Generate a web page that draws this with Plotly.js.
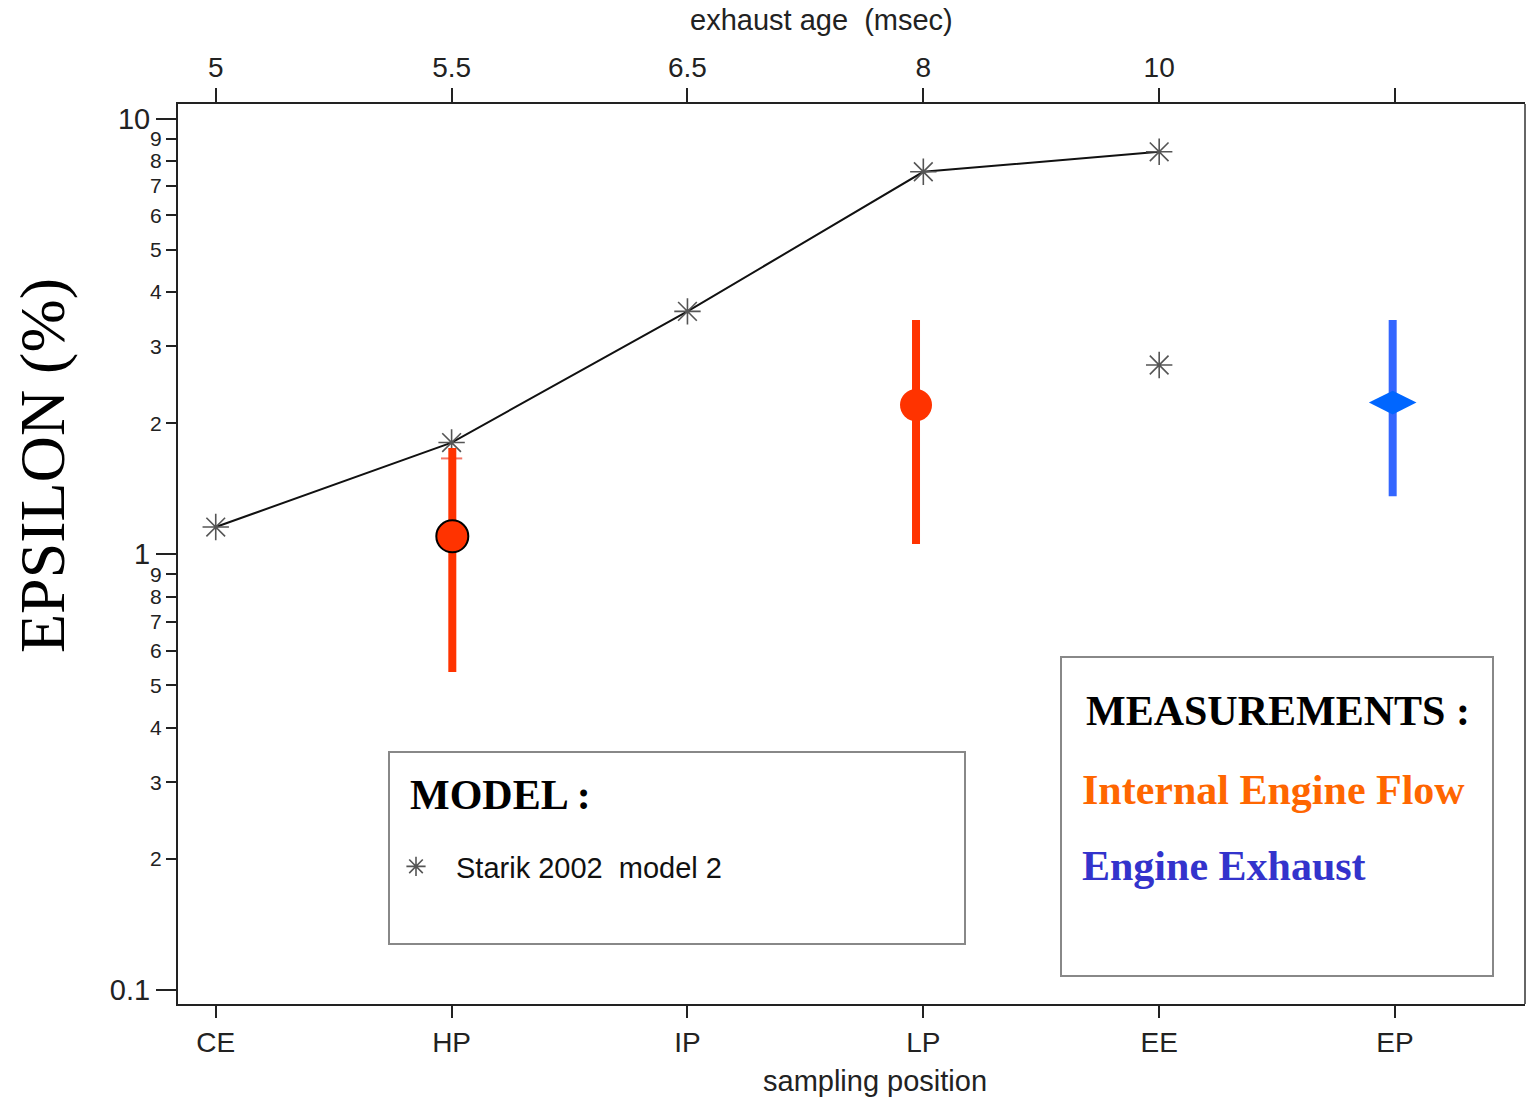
<!DOCTYPE html>
<html><head><meta charset="utf-8">
<script src="https://cdn.plot.ly/plotly-3.0.1.min.js"></script>
<style>html,body{margin:0;padding:0;background:#fff;} #chart{width:1526px;height:1098px;}</style>
</head><body><div id="chart"></div>
<script>
// ---- data ----
const positions = ['CE', 'HP', 'IP', 'LP', 'EE', 'EP'];
const positionIndex = [0, 1, 2, 3, 4, 5];
const exhaustAge = ['5', '5.5', '6.5', '8', '10', ''];

const modelLineX = [0, 1, 2, 3, 4];
const modelLineY = [1.155, 1.805, 3.61, 7.55, 8.39];
const modelPointX = [0, 1, 2, 3, 4, 4];
const modelPointY = [1.155, 1.805, 3.61, 7.55, 8.39, 2.72];

const internalX = [1.003, 2.969];
const internalY = [1.10, 2.20];
const internalHigh = [1.755, 3.45];
const internalLow = [0.537, 1.056];

const exhaustX = [4.99];
const exhaustY = [2.23];
const exhaustHigh = [3.45];
const exhaustLow = [1.36];

const hpCapX = [0.955, 1.045];
const hpCapY = [1.66, 1.66];

const majorTicks = [0.1, 1, 10];
const majorLabels = ['0.1', '1', '10'];
const minorTicks = [0.2, 0.3, 0.4, 0.5, 0.6, 0.7, 0.8, 0.9, 2, 3, 4, 5, 6, 7, 8, 9];
const minorLabels = ['2', '3', '4', '5', '6', '7', '8', '9', '2', '3', '4', '5', '6', '7', '8', '9'];

// ---- chart ----
const xRange = [-0.16, 5.551];
const yRange = [-1.032, 1.0335];
const sans = 'Liberation Sans, Arial, sans-serif';
const serif = 'Liberation Serif, Times New Roman, serif';

const traces = [
  {x: modelLineX, y: modelLineY, mode: 'lines', line: {color: '#111', width: 2},
   showlegend: false, hoverinfo: 'skip'},
  {x: modelPointX, y: modelPointY, mode: 'markers', name: 'Starik 2002\u00a0\u00a0model 2',
   marker: {symbol: 'asterisk-open', size: 22, color: '#555', line: {color: '#555', width: 1.6}},
   showlegend: true},
  {x: hpCapX, y: hpCapY, mode: 'lines', line: {color: 'rgba(240,70,50,0.75)', width: 2},
   showlegend: false, hoverinfo: 'skip'},
  {x: internalX, y: internalY, mode: 'markers', showlegend: false,
   marker: {symbol: 'circle', size: 32, color: '#FF3300', line: {color: '#000', width: [2, 0]}},
   error_y: {type: 'data', symmetric: false,
     array: internalHigh.map((h, i) => h - internalY[i]),
     arrayminus: internalLow.map((l, i) => internalY[i] - l),
     color: '#FF3300', thickness: 8, width: 0}},
  {x: exhaustX, y: exhaustY, mode: 'markers', showlegend: false,
   marker: {symbol: 'diamond-wide', size: 34, color: '#0066FF', line: {width: 0}},
   error_y: {type: 'data', symmetric: false,
     array: exhaustHigh.map((h, i) => h - exhaustY[i]),
     arrayminus: exhaustLow.map((l, i) => exhaustY[i] - l),
     color: '#3366FF', thickness: 8, width: 0}},
  {x: [], y: [], xaxis: 'x2', yaxis: 'y2', mode: 'markers', showlegend: false, hoverinfo: 'skip'}
];

const px = v => (v - 178) / 1347;
const py = v => (1004 - v) / 900;

const layout = {
  width: 1526, height: 1098,
  margin: {l: 178, r: 1, t: 104, b: 94, pad: 0},
  paper_bgcolor: '#fff', plot_bgcolor: '#fff',
  showlegend: true,
  legend: {x: px(376), y: py(841), xanchor: 'left', yanchor: 'top', bgcolor: 'rgba(0,0,0,0)',
    borderwidth: 0, itemwidth: 70, font: {family: sans, size: 29, color: '#111'}},
  xaxis: {range: xRange, tickmode: 'array', tickvals: positionIndex, ticktext: positions,
    showgrid: false, zeroline: false, showline: true, linecolor: '#222', linewidth: 2,
    ticks: 'outside', ticklen: 12, tickwidth: 2, tickcolor: '#222',
    tickfont: {family: sans, size: 28, color: '#222'}},
  xaxis2: {range: xRange, overlaying: 'x', side: 'top', anchor: 'y2', tickmode: 'array',
    tickvals: positionIndex, ticktext: exhaustAge,
    showgrid: false, zeroline: false, showline: true, linecolor: '#222', linewidth: 2,
    ticks: 'outside', ticklen: 14, tickwidth: 2, tickcolor: '#222',
    tickfont: {family: sans, size: 28, color: '#222'}},
  yaxis: {type: 'log', range: yRange, tickmode: 'array', tickvals: majorTicks, ticktext: majorLabels,
    showgrid: false, zeroline: false, showline: true, linecolor: '#222', linewidth: 2,
    ticks: 'outside', ticklen: 20, tickwidth: 2, tickcolor: '#222',
    tickfont: {family: sans, size: 29, color: '#222'}},
  yaxis2: {type: 'log', range: yRange, overlaying: 'y', side: 'left', anchor: 'x2',
    tickmode: 'array', tickvals: minorTicks, ticktext: minorLabels,
    showgrid: false, zeroline: false, showline: false,
    ticks: 'outside', ticklen: 11, tickwidth: 2, tickcolor: '#222',
    tickfont: {family: sans, size: 21, color: '#222'}},
  shapes: [
    {type: 'line', xref: 'paper', yref: 'paper', x0: 1, x1: 1, y0: 0, y1: 1,
     line: {color: '#666', width: 2}},
    {type: 'rect', xref: 'paper', yref: 'paper', x0: px(389), x1: px(965), y0: py(944), y1: py(752),
     line: {color: '#888', width: 2}, fillcolor: 'rgba(0,0,0,0)'},
    {type: 'rect', xref: 'paper', yref: 'paper', x0: px(1061), x1: px(1493), y0: py(976), y1: py(657),
     line: {color: '#888', width: 2}, fillcolor: 'rgba(0,0,0,0)'}
  ],
  annotations: [
    {text: 'EPSILON (%)', xref: 'paper', yref: 'paper', x: px(42), y: py(466), textangle: -90,
     showarrow: false, xanchor: 'center', yanchor: 'middle', font: {family: serif, size: 64, color: '#000'}},
    {text: 'exhaust age\u00a0\u00a0(msec)', xref: 'paper', yref: 'paper', x: px(821), y: py(20),
     showarrow: false, xanchor: 'center', yanchor: 'middle', font: {family: sans, size: 29, color: '#222'}},
    {text: 'sampling position', xref: 'paper', yref: 'paper', x: px(875), y: py(1081),
     showarrow: false, xanchor: 'center', yanchor: 'middle', font: {family: sans, size: 29, color: '#222'}},
    {text: '<b>MODEL :</b>', xref: 'paper', yref: 'paper', x: px(408), y: py(795),
     showarrow: false, xanchor: 'left', yanchor: 'middle', font: {family: serif, size: 42, color: '#000'}},
    {text: '<b>MEASUREMENTS :</b>', xref: 'paper', yref: 'paper', x: px(1084), y: py(711),
     showarrow: false, xanchor: 'left', yanchor: 'middle', font: {family: serif, size: 42, color: '#000'}},
    {text: '<b>Internal Engine Flow</b>', xref: 'paper', yref: 'paper', x: px(1080), y: py(790),
     showarrow: false, xanchor: 'left', yanchor: 'middle', font: {family: serif, size: 42, color: '#FF6600'}},
    {text: '<b>Engine Exhaust</b>', xref: 'paper', yref: 'paper', x: px(1080), y: py(866),
     showarrow: false, xanchor: 'left', yanchor: 'middle', font: {family: serif, size: 42, color: '#3333CC'}}
  ]
};

Plotly.newPlot('chart', traces, layout, {displayModeBar: false, staticPlot: true});
</script>
</body></html>
